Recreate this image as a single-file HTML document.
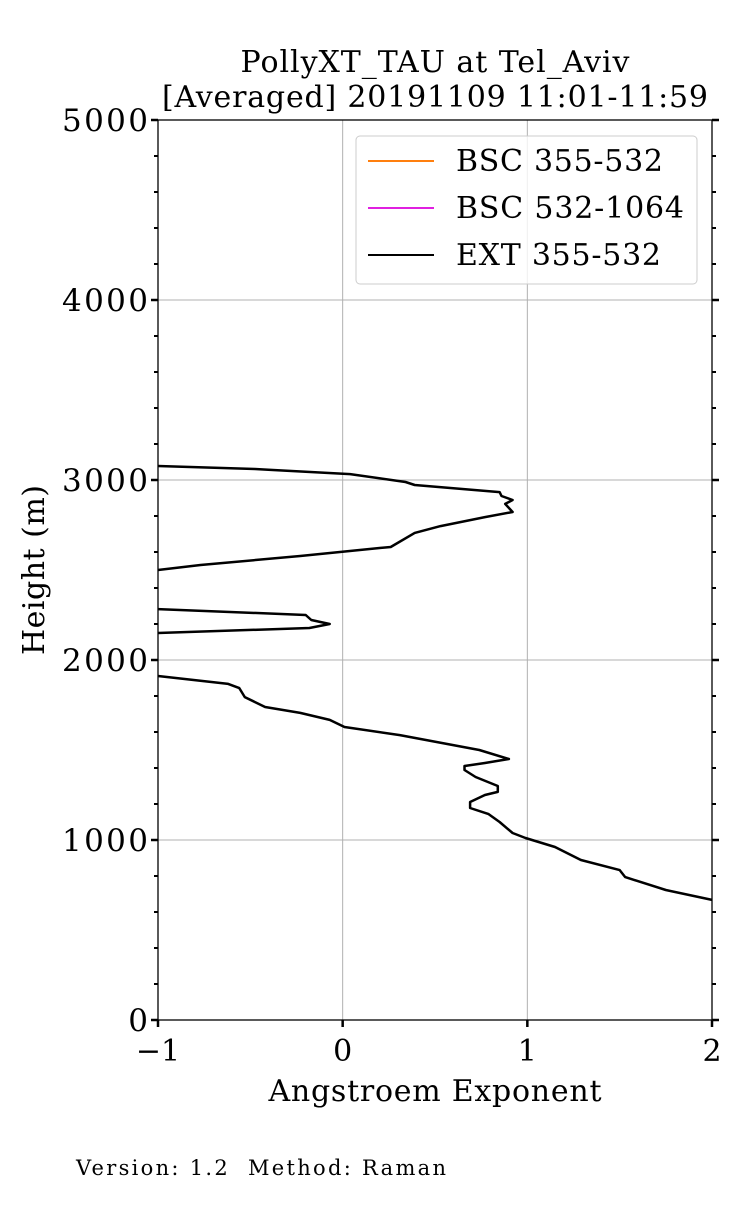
<!DOCTYPE html>
<html><head><meta charset="utf-8"><style>
body{margin:0;background:#fff;}
svg text{font-family:"DejaVu Serif","Liberation Serif",serif;fill:#000;}
</style></head><body>
<svg width="750" height="1200" viewBox="0 0 750 1200">
<g id="grid"></g>
<g id="series"></g>
<rect x="158" y="120" width="554" height="900" fill="none" stroke="#000" stroke-width="1.3"/>
<g id="ticks"></g>
<text x="435" y="72" font-size="30" text-anchor="middle" textLength="389">PollyXT_TAU at Tel_Aviv</text>
<text x="435" y="107" font-size="30" text-anchor="middle" textLength="546">[Averaged] 20191109 11:01-11:59</text>
<text x="435" y="1101" font-size="30" text-anchor="middle" textLength="333">Angstroem Exponent</text>
<text transform="translate(44,570) rotate(-90)" font-size="30" text-anchor="middle" textLength="170">Height (m)</text>
<text x="76" y="1175" font-size="21" xml:space="preserve" textLength="370">Version: 1.2  Method: Raman</text>
<g>
<rect x="356" y="136" width="341" height="148" rx="4" fill="#fff" fill-opacity="0.8" stroke="#ccc"/>
<line x1="368" x2="434" y1="161" y2="161" stroke="#ff7f0e" stroke-width="2"/>
<text x="456" y="171" font-size="30" textLength="207">BSC 355-532</text>
<line x1="368" x2="434" y1="208" y2="208" stroke="#e020e0" stroke-width="2"/>
<text x="456" y="218" font-size="30" textLength="228">BSC 532-1064</text>
<line x1="368" x2="434" y1="255" y2="255" stroke="#000" stroke-width="2"/>
<text x="456" y="265" font-size="30" textLength="205">EXT 355-532</text>
</g>
</svg>
<script>
const xTicks=[-1,0,1,2];
const xTickLabels=["\u22121","0","1","2"];
const yTicks=[0,1000,2000,3000,4000,5000];
const yTickLabels=["0","1000","2000","3000","4000","5000"];
const extSeg1X=[-1,-0.475,-0.39,0.04,0.34,0.39,0.85,0.86,0.92,0.88,0.92,0.77,0.53,0.39,0.26,0.2,-0.23,-0.77,-1];
const extSeg1H=[3078,3061,3056,3033,2989,2972,2933,2911,2889,2867,2822,2794,2744,2706,2628,2622,2578,2528,2500];
const extSeg2X=[-1,-0.2,-0.17,-0.07,-0.18,-1];
const extSeg2H=[2283,2250,2222,2200,2178,2150];
const extSeg3X=[-1,-0.62,-0.56,-0.53,-0.42,-0.23,-0.07,0.01,0.31,0.74,0.9,0.77,0.66,0.66,0.72,0.84,0.84,0.77,0.69,0.69,0.79,0.85,0.92,0.99,1.15,1.29,1.5,1.53,1.75,2.0];
const extSeg3H=[1911,1867,1844,1794,1739,1706,1667,1628,1583,1500,1450,1428,1411,1389,1350,1300,1267,1250,1211,1178,1144,1100,1039,1011,961,889,833,794,722,667];
const NS='http://www.w3.org/2000/svg';
const X0=158,X1=712,Y0=1020,Y1=120;
function sx(v){return X0+(v+1)/3*(X1-X0);}
function sy(v){return Y0-v/5000*(Y0-Y1);}
function mk(tag,attrs,parent){const e=document.createElementNS(NS,tag);for(const k in attrs)e.setAttribute(k,attrs[k]);parent.appendChild(e);return e;}
const grid=document.getElementById('grid'),ticks=document.getElementById('ticks'),series=document.getElementById('series');
xTicks.forEach((t,i)=>{
 const g=mk('line',{x1:sx(t),x2:sx(t),y1:Y1,y2:Y0,stroke:'#b0b0b0','stroke-width':1},grid);
 
 
 const tk=mk('line',{x1:sx(t),x2:sx(t),y1:Y0,y2:Y0+7,stroke:'#000','stroke-width':2.5},ticks);
 
 
 const tx=mk('text',{x:sx(t),y:1061,'font-size':30,'text-anchor':'middle'},ticks);
 tx.textContent=xTickLabels[i];
 
 
});
yTicks.forEach((t,i)=>{
 if(t>0&&t<5000){const g=mk('line',{x1:X0,x2:X1,y1:sy(t),y2:sy(t),stroke:'#b0b0b0','stroke-width':1},grid);
 
 }
 [[X0-7,X0],[X1,X1+7]].forEach(p=>{const tk=mk('line',{x1:p[0],x2:p[1],y1:sy(t),y2:sy(t),stroke:'#000','stroke-width':2.5},ticks);
 
 });
 const tx=mk('text',{x:148,y:sy(t)+11,'font-size':31,'text-anchor':'end'},ticks);
 tx.textContent=yTickLabels[i];
 if(yTickLabels[i].length===4)tx.setAttribute('textLength',86);
 
 
});
for(let m=200;m<5000;m+=200){if(m%1000===0)continue;
 [[X0-4,X0],[X1,X1+4]].forEach(p=>{const tk=mk('line',{x1:p[0],x2:p[1],y1:sy(m),y2:sy(m),stroke:'#000','stroke-width':2},ticks);
 
 });}
[[extSeg1X,extSeg1H],[extSeg2X,extSeg2H],[extSeg3X,extSeg3H]].forEach(s=>{
 const pts=s[0].map((v,i)=>sx(v).toFixed(1)+','+sy(s[1][i]).toFixed(1)).join(' ');
 const p=mk('polyline',{points:pts,fill:'none',stroke:'#000','stroke-width':2.5,'stroke-linejoin':'round'},series);
 
 
});
</script>
</body></html>
